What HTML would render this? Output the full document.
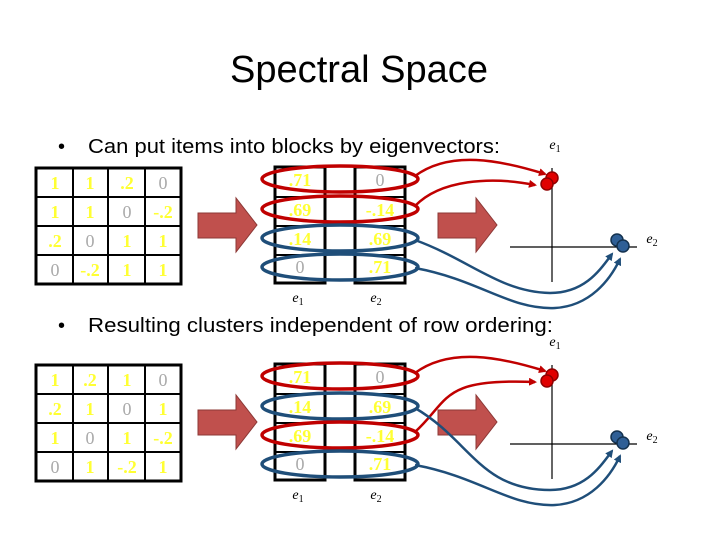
<!DOCTYPE html>
<html><head><meta charset="utf-8"><style>html,body{margin:0;padding:0;background:#fff}svg{display:block}</style></head>
<body>
<svg width="720" height="540" viewBox="0 0 720 540" xmlns="http://www.w3.org/2000/svg" font-family="Liberation Sans, sans-serif">
<defs>
<marker id="ar" markerWidth="8" markerHeight="8" refX="6" refY="4" orient="auto" markerUnits="userSpaceOnUse"><path d="M0,0 L8,4 L0,8 z" fill="#c00000"/></marker>
<marker id="ab" markerWidth="8" markerHeight="8" refX="6" refY="4" orient="auto" markerUnits="userSpaceOnUse"><path d="M0,0 L8,4 L0,8 z" fill="#1f4e79"/></marker>
<g id="fatarrow"><path d="M0,15 L38,15 L38,0 L59,27 L38,54 L38,40 L0,40 z" fill="#c0504d" stroke="#8c3836" stroke-width="1"/></g>
</defs>
<text x="230" y="82" font-size="38" textLength="258" lengthAdjust="spacingAndGlyphs">Spectral Space</text>

<text x="58" y="153" font-size="20">•</text>
<text x="88" y="153" font-size="20" textLength="412" lengthAdjust="spacingAndGlyphs">Can put items into blocks by eigenvectors:</text>
<text x="58" y="332" font-size="20">•</text>
<text x="88" y="332" font-size="20" textLength="465" lengthAdjust="spacingAndGlyphs">Resulting clusters independent of row ordering:</text>

<g font-family="Liberation Serif, serif" font-size="18" text-anchor="middle">
<g stroke="#000" stroke-width="3" fill="none">
<rect x="36" y="168" width="145" height="116"/>
<path d="M73,168V284M108,168V284M145,168V284M36,197H181M36,226H181M36,255H181" stroke-width="2"/>
</g>
<g fill="#ffff33" font-weight="bold">
<text x="55" y="189">1</text><text x="90" y="189">1</text><text x="127" y="189">.2</text>
<text x="55" y="218">1</text><text x="90" y="218">1</text><text x="163" y="218">-.2</text>
<text x="55" y="247">.2</text><text x="127" y="247">1</text><text x="163" y="247">1</text>
<text x="90" y="276">-.2</text><text x="127" y="276">1</text><text x="163" y="276">1</text>
</g>
<g fill="#aaa"><text x="163" y="189">0</text><text x="127" y="218">0</text><text x="90" y="247">0</text><text x="55" y="276">0</text></g>

<g stroke="#000" stroke-width="3" fill="none">
<rect x="36" y="365" width="145" height="116"/>
<path d="M73,365V481M108,365V481M145,365V481M36,394H181M36,423H181M36,452H181" stroke-width="2"/>
</g>
<g fill="#ffff33" font-weight="bold">
<text x="55" y="386">1</text><text x="90" y="386">.2</text><text x="127" y="386">1</text>
<text x="55" y="415">.2</text><text x="90" y="415">1</text><text x="163" y="415">1</text>
<text x="55" y="444">1</text><text x="127" y="444">1</text><text x="163" y="444">-.2</text>
<text x="90" y="473">1</text><text x="127" y="473">-.2</text><text x="163" y="473">1</text>
</g>
<g fill="#aaa"><text x="163" y="386">0</text><text x="127" y="415">0</text><text x="90" y="444">0</text><text x="55" y="473">0</text></g>

<g stroke="#000" stroke-width="3" fill="none">
<rect x="275" y="167" width="50" height="116"/><rect x="355" y="167" width="50" height="116"/>
<path d="M275,197H325M275,226H325M275,255H325M355,197H405M355,226H405M355,255H405" stroke-width="2"/>
</g>
<g fill="#ffff33" font-weight="bold"><text x="300" y="186">.71</text><text x="300" y="216">.69</text><text x="300" y="245">.14</text>
<text x="380" y="216">-.14</text><text x="380" y="245">.69</text><text x="380" y="273">.71</text></g>
<g fill="#aaa"><text x="380" y="186">0</text><text x="300" y="273">0</text></g>

<g stroke="#000" stroke-width="3" fill="none">
<rect x="275" y="364" width="50" height="116"/><rect x="355" y="364" width="50" height="116"/>
<path d="M275,394H325M275,423H325M275,452H325M355,394H405M355,423H405M355,452H405" stroke-width="2"/>
</g>
<g fill="#ffff33" font-weight="bold"><text x="300" y="383">.71</text><text x="300" y="413">.14</text><text x="300" y="442">.69</text>
<text x="380" y="413">.69</text><text x="380" y="442">-.14</text><text x="380" y="470">.71</text></g>
<g fill="#aaa"><text x="380" y="383">0</text><text x="300" y="470">0</text></g>

<g font-style="italic" font-size="14" fill="#000">
<text x="298" y="302">e<tspan font-size="10" dy="3" font-style="normal">1</tspan></text>
<text x="376" y="302">e<tspan font-size="10" dy="3" font-style="normal">2</tspan></text>
<text x="298" y="499">e<tspan font-size="10" dy="3" font-style="normal">1</tspan></text>
<text x="376" y="499">e<tspan font-size="10" dy="3" font-style="normal">2</tspan></text>
<text x="555" y="149">e<tspan font-size="10" dy="3" font-style="normal">1</tspan></text>
<text x="652" y="243">e<tspan font-size="10" dy="3" font-style="normal">2</tspan></text>
<text x="555" y="346">e<tspan font-size="10" dy="3" font-style="normal">1</tspan></text>
<text x="652" y="440">e<tspan font-size="10" dy="3" font-style="normal">2</tspan></text>
</g>
</g>

<g fill="none" stroke-width="3.5">
<ellipse cx="340" cy="179" rx="78" ry="13" stroke="#c00000"/>
<ellipse cx="340" cy="209" rx="78" ry="13" stroke="#c00000"/>
<ellipse cx="340" cy="238" rx="78" ry="13" stroke="#1f4e79"/>
<ellipse cx="340" cy="267" rx="78" ry="13" stroke="#1f4e79"/>
<ellipse cx="340" cy="376" rx="78" ry="13" stroke="#c00000"/>
<ellipse cx="340" cy="406" rx="78" ry="13" stroke="#1f4e79"/>
<ellipse cx="340" cy="435" rx="78" ry="13" stroke="#c00000"/>
<ellipse cx="340" cy="464" rx="78" ry="13" stroke="#1f4e79"/>
</g>

<use href="#fatarrow" x="198" y="198"/>
<use href="#fatarrow" x="438" y="198"/>
<use href="#fatarrow" x="198" y="395"/>
<use href="#fatarrow" x="438" y="395"/>

<g stroke="#000" stroke-width="1.2">
<path d="M552,168V282M510,247H637"/>
<path d="M552,365V479M510,444H637"/>
</g>

<g fill="none" stroke-width="2.5">
<path d="M415,176 C450,150 500,160 545,174" stroke="#c00000" marker-end="url(#ar)"/>
<path d="M415,206 C440,180 490,176 535,185" stroke="#c00000" marker-end="url(#ar)"/>
<path d="M415,240 C470,260 500,292 550,293 C585,293 600,270 612,254" stroke="#1f4e79" marker-end="url(#ab)"/>
<path d="M415,268 C480,280 510,310 555,308 C590,306 610,280 620,259" stroke="#1f4e79" marker-end="url(#ab)"/>
<path d="M415,373 C450,347 500,357 545,371" stroke="#c00000" marker-end="url(#ar)"/>
<path d="M415,432 C450,400 440,378 535,382" stroke="#c00000" marker-end="url(#ar)"/>
<path d="M415,408 C470,440 480,490 550,490 C585,490 600,467 612,451" stroke="#1f4e79" marker-end="url(#ab)"/>
<path d="M415,465 C480,477 510,507 555,505 C590,503 610,477 620,456" stroke="#1f4e79" marker-end="url(#ab)"/>
</g>

<g stroke-width="1.5">
<circle cx="552" cy="178" r="6" fill="#e00000" stroke="#900000"/>
<circle cx="547" cy="184" r="6" fill="#e00000" stroke="#900000"/>
<circle cx="617" cy="240" r="6" fill="#2f5f96" stroke="#14324f"/>
<circle cx="623" cy="246" r="6" fill="#2f5f96" stroke="#14324f"/>
<circle cx="552" cy="375" r="6" fill="#e00000" stroke="#900000"/>
<circle cx="547" cy="381" r="6" fill="#e00000" stroke="#900000"/>
<circle cx="617" cy="437" r="6" fill="#2f5f96" stroke="#14324f"/>
<circle cx="623" cy="443" r="6" fill="#2f5f96" stroke="#14324f"/>
</g>
</svg>
</body></html>
